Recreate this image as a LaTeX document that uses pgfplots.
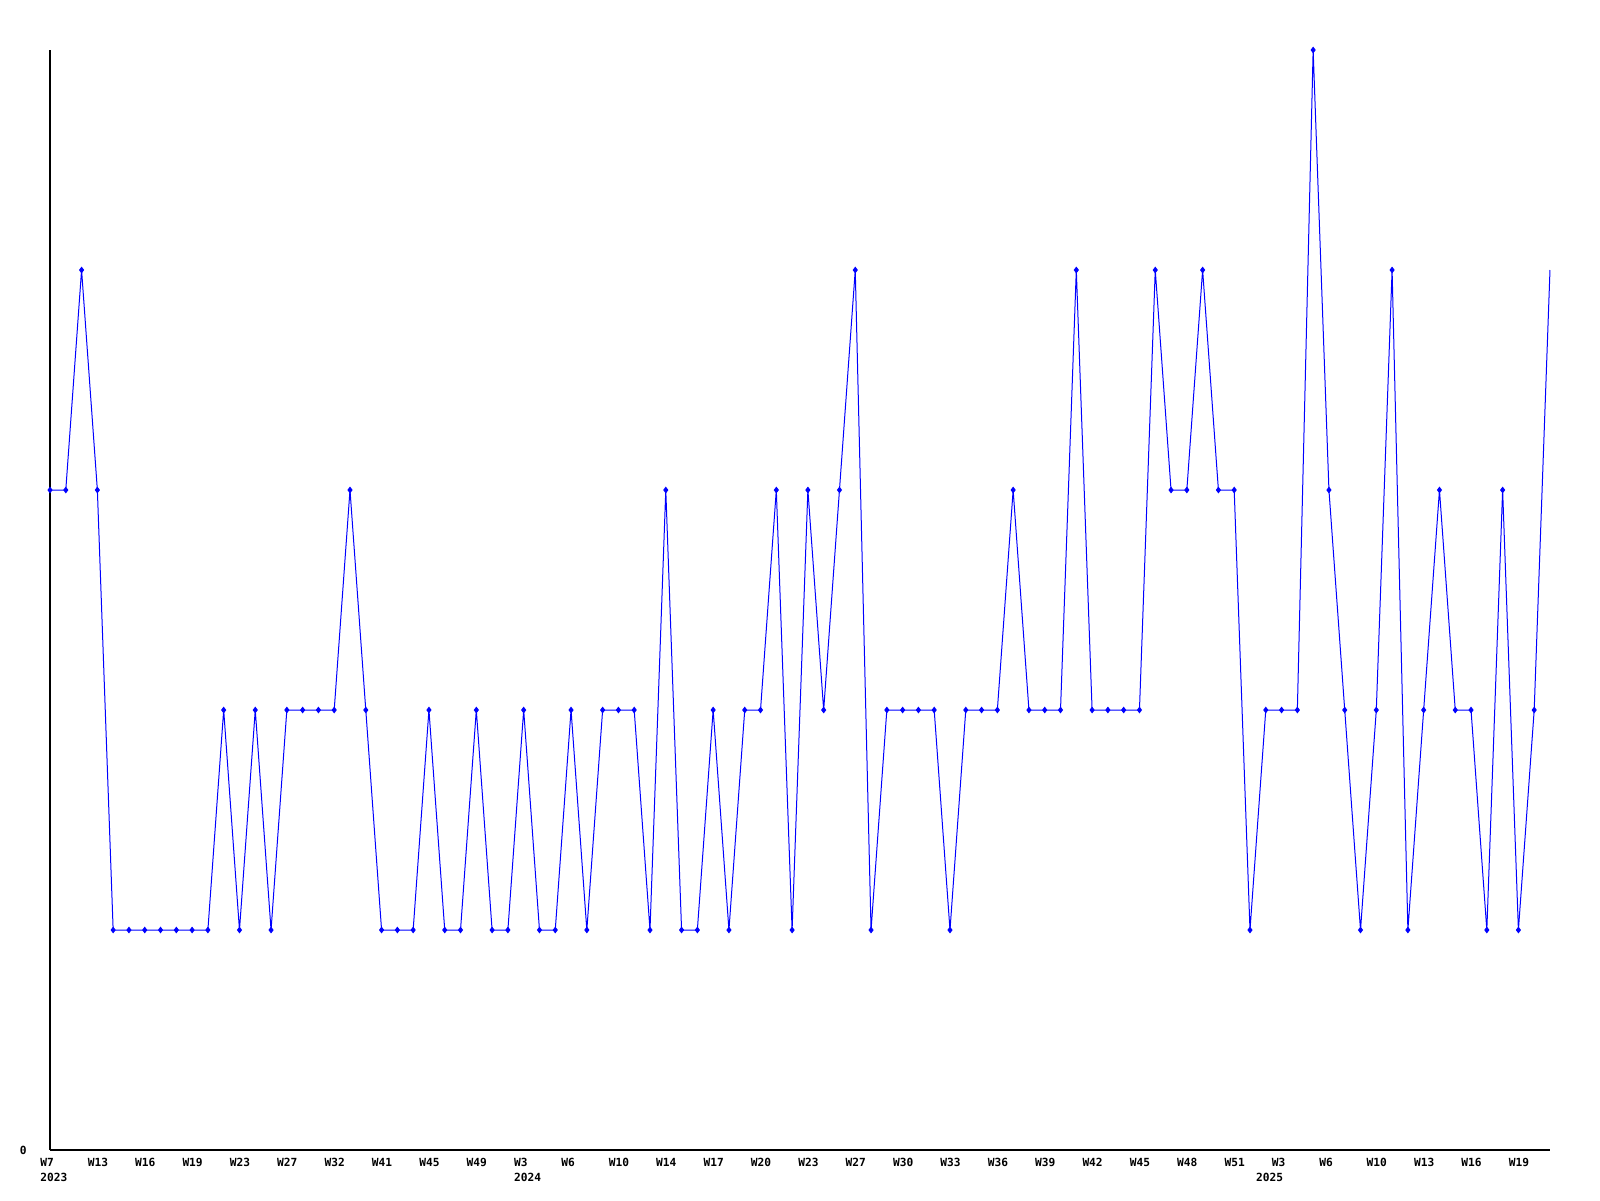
\documentclass[border=0pt]{standalone}
\usepackage{pgfplots}
\pgfplotsset{compat=1.18}
\usepackage{fontspec}
\newfontfamily\monob{DejaVu Sans Mono Bold}
\begin{document}
\begin{tikzpicture}
\path[use as bounding box] (0,0) rectangle (800pt,-600pt);
\begin{axis}[
  at={(25pt,-575pt)}, anchor=origin,
  scale only axis, width=750pt, height=550pt,
  xmin=0, xmax=95, ymin=0, ymax=5,
  axis lines*=left,
  axis line style={line width=0.8pt, black, -},
  clip=false,
  major tick length=0pt,
  ytick={0}, yticklabels={0},
  yticklabel style={font=\monob\fontsize{5.6}{7.5}\selectfont, inner sep=0pt, anchor=east, xshift=-11.5pt},
  xtick={0,3,...,93},
  xticklabels={W7,W13,W16,W19,W23,W27,W32,W41,W45,W49,W3,W6,W10,W14,W17,W20,W23,W27,W30,W33,W36,W39,W42,W45,W48,W51,W3,W6,W10,W13,W16,W19},
  xticklabel style={font=\monob\fontsize{5.6}{7.5}\selectfont, inner sep=0pt, anchor=north west, xshift=-5pt, yshift=-4pt},
]
\addplot[blue, line width=0.5pt, mark=diamond*, mark size=1.3pt, mark options={fill=blue, draw=blue}, mark indices={1,...,95}] coordinates {
(0,3)(1,3)(2,4)(3,3)(4,1)(5,1)(6,1)(7,1)(8,1)(9,1)
(10,1)(11,2)(12,1)(13,2)(14,1)(15,2)(16,2)(17,2)(18,2)(19,3)
(20,2)(21,1)(22,1)(23,1)(24,2)(25,1)(26,1)(27,2)(28,1)(29,1)
(30,2)(31,1)(32,1)(33,2)(34,1)(35,2)(36,2)(37,2)(38,1)(39,3)
(40,1)(41,1)(42,2)(43,1)(44,2)(45,2)(46,3)(47,1)(48,3)(49,2)
(50,3)(51,4)(52,1)(53,2)(54,2)(55,2)(56,2)(57,1)(58,2)(59,2)
(60,2)(61,3)(62,2)(63,2)(64,2)(65,4)(66,2)(67,2)(68,2)(69,2)
(70,4)(71,3)(72,3)(73,4)(74,3)(75,3)(76,1)(77,2)(78,2)(79,2)
(80,5)(81,3)(82,2)(83,1)(84,2)(85,4)(86,1)(87,2)(88,3)(89,2)
(90,2)(91,1)(92,3)(93,1)(94,2)(95,4)
};
\node[font=\monob\fontsize{5.6}{7.5}\selectfont, inner sep=0pt, anchor=north west, xshift=-5pt, yshift=-11.5pt] at (axis cs:0,0) {2023};
\node[font=\monob\fontsize{5.6}{7.5}\selectfont, inner sep=0pt, anchor=north west, xshift=-5pt, yshift=-11.5pt] at (axis cs:30,0) {2024};
\node[font=\monob\fontsize{5.6}{7.5}\selectfont, inner sep=0pt, anchor=north west, xshift=-5pt, yshift=-11.5pt] at (axis cs:77,0) {2025};
\end{axis}
\end{tikzpicture}
\end{document}
